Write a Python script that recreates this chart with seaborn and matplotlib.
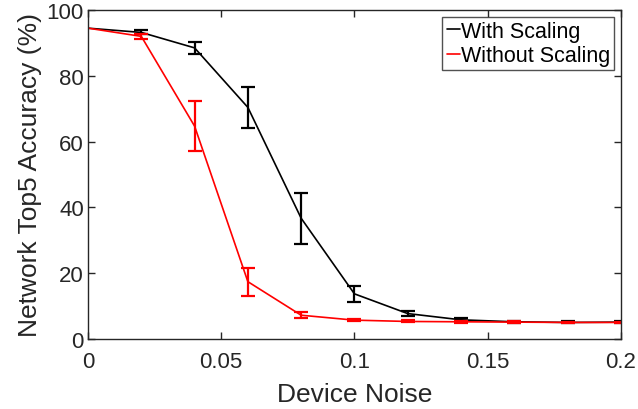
import matplotlib
matplotlib.use("Agg")
import matplotlib.pyplot as plt
import seaborn as sns
import pandas as pd

noise = [0.0, 0.02, 0.04, 0.06, 0.08, 0.10, 0.12, 0.14, 0.16, 0.18, 0.20]
with_scaling = [94.5, 93.2, 88.5, 70.4, 36.7, 13.7, 7.7, 5.8, 5.2, 5.0, 5.1]
with_err = [0.0, 0.6, 1.8, 6.3, 7.7, 2.5, 0.8, 0.5, 0.3, 0.3, 0.2]
without_scaling = [94.5, 92.0, 64.7, 17.4, 7.2, 5.7, 5.3, 5.2, 5.1, 5.0, 5.0]
without_err = [0.0, 0.8, 7.5, 4.3, 0.9, 0.4, 0.3, 0.3, 0.2, 0.2, 0.2]

sns.set_theme(style="white")
plt.rcParams['font.family'] = ['Liberation Sans', 'DejaVu Sans']

df = pd.DataFrame({
    "noise": noise * 2,
    "acc": with_scaling + without_scaling,
    "series": ["With Scaling"] * len(noise) + ["Without Scaling"] * len(noise),
})

fig = plt.figure(figsize=(6.38, 4.10), dpi=100)
ax = fig.add_axes([0.138, 0.171, 0.835, 0.802])

palette = {"With Scaling": "black", "Without Scaling": "red"}
sns.lineplot(data=df, x="noise", y="acc", hue="series", palette=palette,
             linewidth=1.2, ax=ax, errorbar=None)

ax.errorbar(noise[1:], with_scaling[1:], yerr=with_err[1:], fmt="none",
            ecolor="black", elinewidth=1.6, capsize=5, capthick=1.6)
ax.errorbar(noise[1:], without_scaling[1:], yerr=without_err[1:], fmt="none",
            ecolor="red", elinewidth=1.6, capsize=5, capthick=1.6)

ax.set_xlim(0, 0.2)
ax.set_ylim(0, 100)
ax.set_xticks([0, 0.05, 0.1, 0.15, 0.2])
ax.set_xticklabels(["0", "0.05", "0.1", "0.15", "0.2"])
ax.set_yticks([0, 20, 40, 60, 80, 100])
ax.set_xlabel("Device Noise", fontsize=19, color="#262626", labelpad=7)
ax.set_ylabel("Network Top5 Accuracy (%)", fontsize=19, color="#262626", labelpad=3)
ax.tick_params(direction="in", length=5, width=1, colors="#262626",
               labelsize=16, top=True, right=True, bottom=True, left=True, pad=3)
ax.tick_params(axis="x", pad=9)
for s in ax.spines.values():
    s.set_color("#262626")
    s.set_linewidth(1.0)

leg = ax.legend(loc="upper right", fontsize=15.5, frameon=True, fancybox=False,
                edgecolor="#262626", handlelength=0.6, handletextpad=0.05,
                borderpad=0.2, labelspacing=0.15, borderaxespad=0.3)
leg.get_frame().set_linewidth(1.0)
for t in leg.get_texts():
    t.set_color("black")

fig.savefig("out.png", dpi=100, facecolor="white")
